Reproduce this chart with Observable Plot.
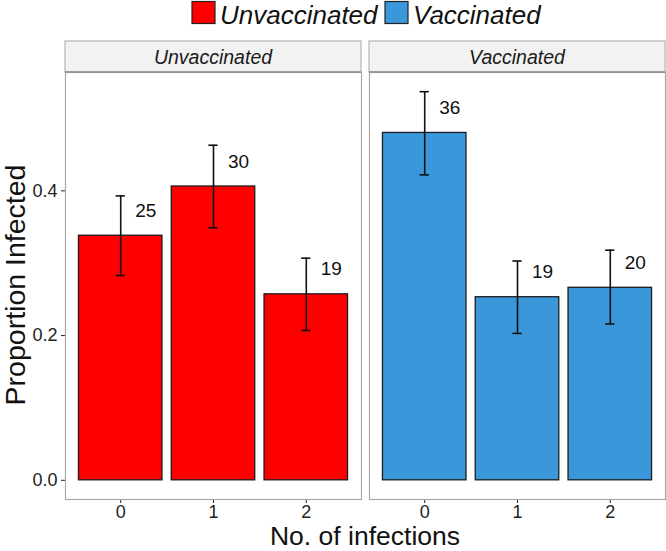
<!DOCTYPE html>
<html>
<head>
<meta charset="utf-8">
<script src="https://cdn.jsdelivr.net/npm/d3@7"></script>
<script src="https://cdn.jsdelivr.net/npm/@observablehq/plot@0.6"></script>
<style>
  html, body { margin: 0; padding: 0; background: #fff; }
  #chart svg { display: block; }
</style>
</head>
<body>
<div id="chart"></div>
<script>
// ---- data ----
const groups = ["Unvaccinated", "Vaccinated"];
const infections = [0, 1, 2];
const unvaccProp = [0.338, 0.406, 0.257];
const unvaccLo   = [0.283, 0.349, 0.207];
const unvaccHi   = [0.393, 0.463, 0.307];
const unvaccN    = [25, 30, 19];
const vaccProp   = [0.480, 0.253, 0.266];
const vaccLo     = [0.422, 0.203, 0.216];
const vaccHi     = [0.537, 0.303, 0.318];
const vaccN      = [36, 19, 20];
const yTicks = [0, 0.2, 0.4];
const xTicks = [0, 1, 2];
const colors = ["#FF0000", "#3A98DA"];
const yTitle = "Proportion Infected";
const xTitle = "No. of infections";

const rows = [];
infections.forEach((n, i) => {
  rows.push({group: groups[0], n, p: unvaccProp[i], lo: unvaccLo[i], hi: unvaccHi[i], count: unvaccN[i]});
});
infections.forEach((n, i) => {
  rows.push({group: groups[1], n, p: vaccProp[i], lo: vaccLo[i], hi: vaccHi[i], count: vaccN[i]});
});

const font = "'Liberation Sans', Arial, Helvetica, sans-serif";
const W = 666, H = 551;
const mTop = 72, mBottom = 52, mLeft = 65, mRight = 1;

const plot = Plot.plot({
  width: W,
  height: H,
  marginTop: mTop,
  marginBottom: mBottom,
  marginLeft: mLeft,
  marginRight: mRight,
  style: {fontFamily: font, fontSize: "18px", color: "#222", background: "#fff"},
  fx: {domain: groups, axis: null, paddingInner: 8 / 304, paddingOuter: 0, label: null},
  x: {domain: [-0.595, 2.595], ticks: xTicks, tickFormat: d => String(d), tickSize: 4, tickPadding: 2, label: null},
  y: {domain: [-0.0265, 0.5635], ticks: yTicks, tickFormat: d3.format(".1f"), tickSize: 4, tickPadding: 4, label: null},
  color: {domain: groups, range: colors},
  marks: [
    Plot.frame({stroke: "#a8a8a8", strokeWidth: 1.2}),
    Plot.rect(rows, {fx: "group", x1: d => d.n - 0.45, x2: d => d.n + 0.45, y1: () => 0, y2: "p",
      fill: "group", stroke: "#1c1c1c", strokeWidth: 1.3}),
    Plot.ruleX(rows, {fx: "group", x: "n", y1: "lo", y2: "hi", stroke: "#111", strokeWidth: 1.6}),
    Plot.ruleY(rows, {fx: "group", y: "hi", x1: d => d.n - 0.05, x2: d => d.n + 0.05, stroke: "#111", strokeWidth: 1.6}),
    Plot.ruleY(rows, {fx: "group", y: "lo", x1: d => d.n - 0.05, x2: d => d.n + 0.05, stroke: "#111", strokeWidth: 1.6}),
    Plot.text(rows, {fx: "group", x: "n", y: "p", text: d => String(d.count), dx: 25, dy: -25,
      fontSize: 19, fill: "#111"})
  ]
});

document.getElementById("chart").appendChild(plot);

// ---- strips, legend and axis titles drawn with the plot's own fx scale ----
const svg = d3.select(plot);
const fx = plot.scale("fx");
const bw = fx.bandwidth;
const stripG = svg.append("g");
groups.forEach(g => {
  const x0 = fx.apply(g);
  stripG.append("rect")
    .attr("x", x0).attr("y", 41).attr("width", bw).attr("height", mTop - 41)
    .attr("fill", "#f2f2f2").attr("stroke", "#b5b5b5").attr("stroke-width", 1.2);
  stripG.append("line")
    .attr("x1", x0).attr("x2", x0 + bw).attr("y1", mTop).attr("y2", mTop)
    .attr("stroke", "#8c8c8c").attr("stroke-width", 1.4);
  stripG.append("text")
    .attr("x", x0 + bw / 2).attr("y", 63.5)
    .attr("text-anchor", "middle")
    .attr("font-family", font).attr("font-size", 19.5).attr("font-style", "italic")
    .attr("fill", "#1a1a1a")
    .text(g);
});

// legend
const legend = svg.append("g");
const legendX = [192, 385];
groups.forEach((g, i) => {
  legend.append("rect")
    .attr("x", legendX[i]).attr("y", 1.5).attr("width", 23).attr("height", 22)
    .attr("fill", colors[i]).attr("stroke", "#222").attr("stroke-width", 1.2);
  legend.append("text")
    .attr("x", legendX[i] + 28).attr("y", 23.5)
    .attr("text-anchor", "start")
    .attr("font-family", font).attr("font-size", 26).attr("font-style", "italic")
    .attr("fill", "#111")
    .text(g);
});

// axis titles
svg.append("text")
  .attr("transform", `translate(25, 285) rotate(-90)`)
  .attr("text-anchor", "middle")
  .attr("font-family", font).attr("font-size", 28.5).attr("fill", "#111")
  .text(yTitle);
svg.append("text")
  .attr("x", (mLeft + W - mRight) / 2).attr("y", 545)
  .attr("text-anchor", "middle")
  .attr("font-family", font).attr("font-size", 26.5).attr("fill", "#111")
  .text(xTitle);
</script>
</body>
</html>
